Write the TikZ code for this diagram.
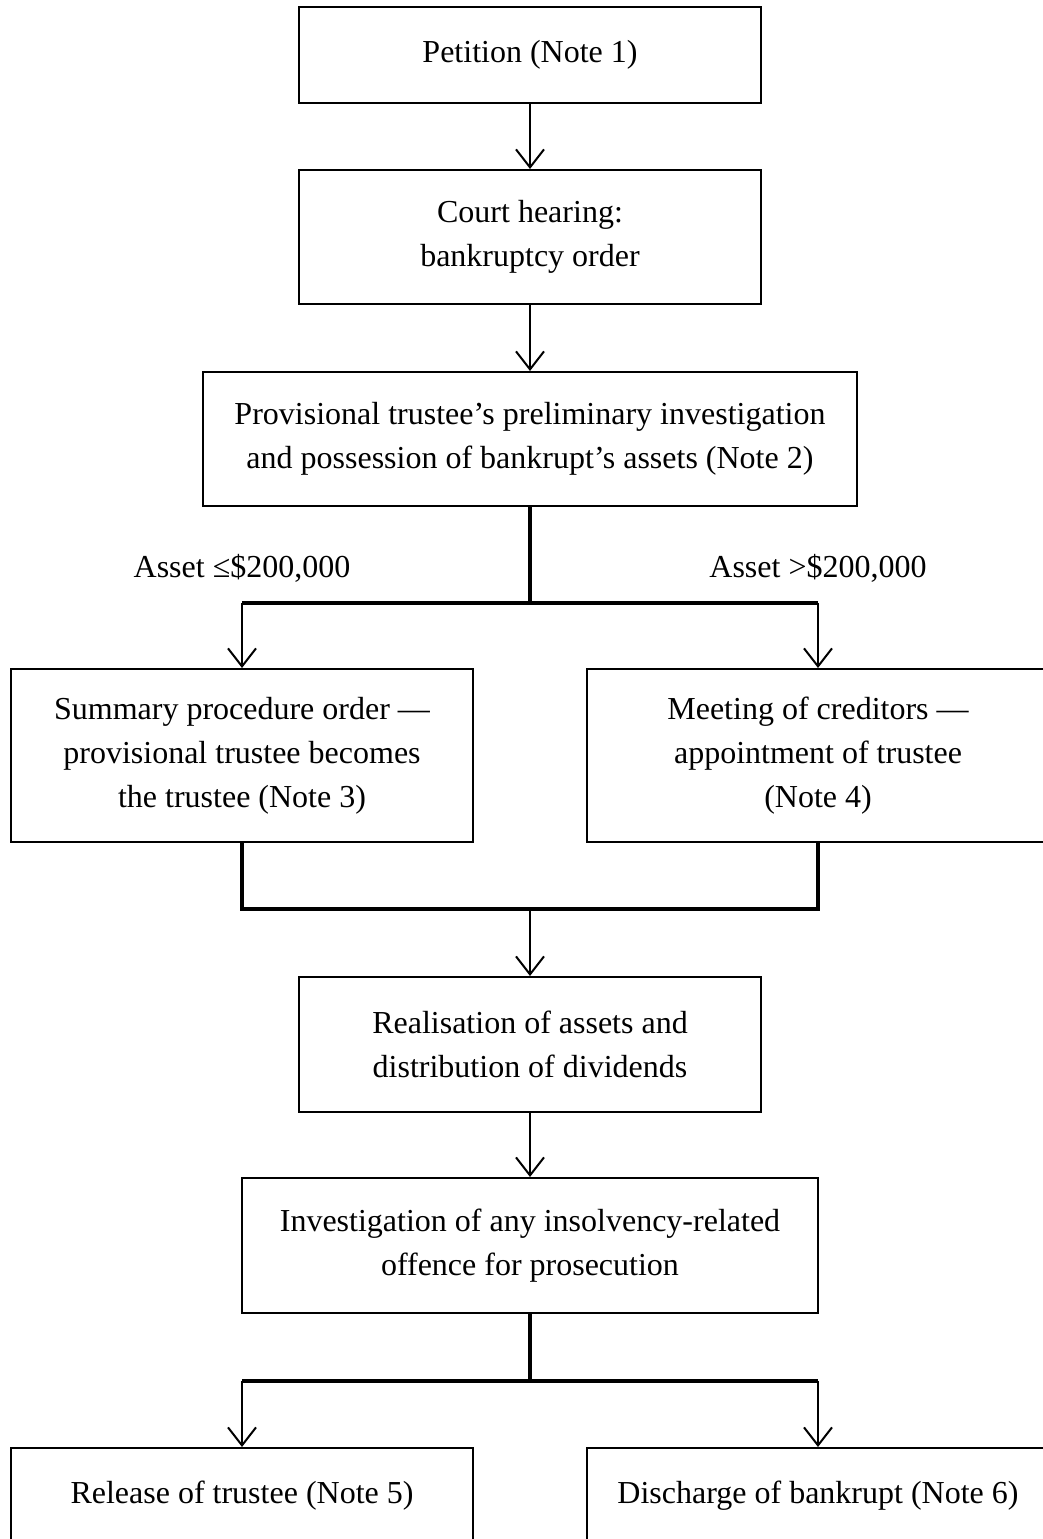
\documentclass[tikz,border=0pt]{standalone}
\usepackage{fontspec}
\setmainfont{Liberation Serif}
\usetikzlibrary{arrows.meta}
\tikzset{
  box/.style={draw=black, line width=2pt, align=center, inner sep=0pt,
    font=\fontsize{32}{44}\selectfont, text=black},
  lbl/.style={font=\fontsize{32}{44}\selectfont, inner sep=0pt, anchor=base},
  arr/.style={line width=2pt, -{Straight Barb[length=18pt,width=28pt,line width=2pt]}},
  thickline/.style={line width=3.5pt},
}
\begin{document}
\begin{tikzpicture}[x=1pt,y=-1pt]
\clip (0,0) rectangle (1043,1539);
\fill[white] (0,0) rectangle (1043,1539);

\node[box, minimum width=462pt, minimum height=96pt] (pet) at (530,55) {Petition (Note 1)};
\node[box, minimum width=462pt, minimum height=134pt] (court) at (530,237) {Court hearing:\\bankruptcy order};
\node[box, minimum width=654pt, minimum height=134pt] (prov) at (530,439) {Provisional trustee’s preliminary investigation\\and possession of bankrupt’s assets (Note 2)};
\node[box, minimum width=462pt, minimum height=173pt] (sum) at (242,755.5) {Summary procedure order —\\provisional trustee becomes\\the trustee (Note 3)};
\node[box, minimum width=462pt, minimum height=173pt] (meet) at (818,755.5) {Meeting of creditors —\\appointment of trustee\\(Note 4)};
\node[box, minimum width=462pt, minimum height=135pt] (real) at (530,1044.5) {Realisation of assets and\\distribution of dividends};
\node[box, minimum width=576pt, minimum height=135pt] (inv) at (530,1245.5) {Investigation of any insolvency-related\\offence for prosecution};
\node[box, minimum width=462pt, minimum height=96pt] (rel) at (242,1496) {Release of trustee (Note 5)};
\node[box, minimum width=462pt, minimum height=96pt] (dis) at (818,1496) {Discharge of bankrupt (Note 6)};

\node[lbl] (la) at (242,577) {Asset ≤\$200,000};
\node[lbl] (lb) at (818,577) {Asset >\$200,000};

\coordinate (s1) at (530,603);
\coordinate (s1l) at (242,603);
\coordinate (s1r) at (818,603);
\coordinate (m1) at (530,909);
\coordinate (m1l) at (242,909);
\coordinate (m1r) at (818,909);
\coordinate (s2) at (530,1381);
\coordinate (s2l) at (242,1381);
\coordinate (s2r) at (818,1381);

\draw[arr] (pet.south) -- (court.north);
\draw[arr] (court.south) -- (prov.north);
\draw[thickline] (prov.south) -- (s1);
\draw[thickline] (s1l) -- (s1r);
\draw[arr] (s1l) -- (sum.north);
\draw[arr] (s1r) -- (meet.north);
\draw[thickline] (sum.south) -- (m1l) -- (m1r) -- (meet.south);
\draw[arr] (m1) -- (real.north);
\draw[arr] (real.south) -- (inv.north);
\draw[thickline] (inv.south) -- (s2);
\draw[thickline] (s2l) -- (s2r);
\draw[arr] (s2l) -- (rel.north);
\draw[arr] (s2r) -- (dis.north);
\end{tikzpicture}
\end{document}
